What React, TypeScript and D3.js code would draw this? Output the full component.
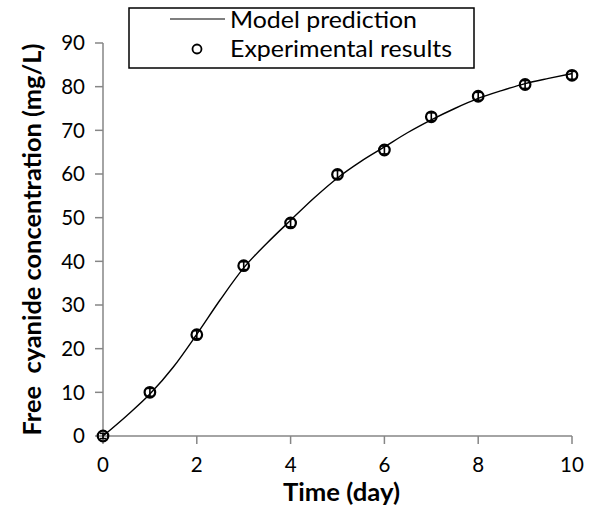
import React from "react";
import * as d3 from "d3";

// Measured free cyanide (mg/L) by day
const expDays = [0, 1, 2, 3, 4, 5, 6, 7, 8, 9, 10];
const expValues = [0, 10.0, 23.2, 39.0, 48.8, 59.9, 65.5, 73.1, 77.8, 80.5, 82.6];
const expErrors = [0.6, 0.9, 0.9, 0.9, 0.9, 0.9, 0.9, 0.9, 0.9, 0.9, 0.9];

// Model prediction curve
const modelDays = [0, 0.5, 1, 1.5, 2, 2.5, 3, 3.5, 4, 4.5, 5, 5.5, 6, 6.5, 7, 7.5, 8, 8.5, 9, 9.5, 10];
const modelValues = [0, 4.6, 9.6, 15.8, 23.3, 31.2, 38.5, 44.2, 49.4, 54.5, 59.1, 62.9, 66.2, 69.5, 72.4, 75.0, 77.3, 79.1, 80.7, 81.9, 83.0];

const xTicks = [0, 2, 4, 6, 8, 10];
const yTicks = [0, 10, 20, 30, 40, 50, 60, 70, 80, 90];

const W = 596;
const H = 510;
const FONT = "Lato, 'Open Sans', sans-serif";

export default function App() {
  const x = d3.scaleLinear().domain([0, 10]).range([103, 572]);
  const y = d3.scaleLinear().domain([0, 90]).range([436, 43]);
  const line = d3
    .line<number>()
    .x((_, i) => x(modelDays[i]))
    .y((d) => y(d))
    .curve(d3.curveMonotoneX);
  const axisColor = "#868686";

  return (
    <svg width={W} height={H} style={{ position: "absolute", left: 0, top: 0, background: "#fff" }}>
      {/* y axis */}
      <line x1={x(0)} x2={x(0)} y1={y(0)} y2={y(90)} stroke={axisColor} strokeWidth={1.5} />
      {yTicks.map((t) => (
        <g key={"y" + t}>
          <line x1={x(0) - 8} x2={x(0)} y1={y(t)} y2={y(t)} stroke={axisColor} strokeWidth={1.5} />
          <text x={x(0) - 18} y={y(t)} dy="0.36em" textAnchor="end" fontFamily={FONT} fontSize={20.5}>
            {t}
          </text>
        </g>
      ))}
      {/* x axis */}
      <line x1={x(0)} x2={x(10)} y1={y(0)} y2={y(0)} stroke={axisColor} strokeWidth={1.5} />
      {xTicks.map((t) => (
        <g key={"x" + t}>
          <line x1={x(t)} x2={x(t)} y1={y(0)} y2={y(0) + 8} stroke={axisColor} strokeWidth={1.5} />
          <text x={x(t)} y={y(0) + 36} textAnchor="middle" fontFamily={FONT} fontSize={20.5}>
            {t}
          </text>
        </g>
      ))}
      <text
        x={x(5) + 4}
        y={501}
        textAnchor="middle"
        fontFamily={FONT}
        fontWeight="bold"
        fontSize={24}
        textLength={117}
        lengthAdjust="spacingAndGlyphs"
      >
        Time (day)
      </text>
      <text
        transform={`translate(41, ${y(45)}) rotate(-90)`}
        textAnchor="middle"
        fontFamily={FONT}
        fontWeight="bold"
        fontSize={25}
        textLength={392}
        lengthAdjust="spacingAndGlyphs"
        style={{ whiteSpace: "pre" }}
      >
        {"Free  cyanide concentration (mg/L)"}
      </text>

      {/* model curve */}
      <path d={line(modelValues) || ""} fill="none" stroke="#000" strokeWidth={1.4} />

      {/* experimental points with error bars */}
      {expDays.map((d, i) => {
        const cx = x(d);
        const cy = y(expValues[i]);
        const e0 = y(expValues[i] - expErrors[i]);
        const e1 = y(expValues[i] + expErrors[i]);
        return (
          <g key={"p" + d}>
            <line x1={cx} x2={cx} y1={e0} y2={e1} stroke="#000" strokeWidth={1.6} />
            <line x1={cx - 3} x2={cx + 3} y1={e0} y2={e0} stroke="#000" strokeWidth={1.6} />
            <line x1={cx - 3} x2={cx + 3} y1={e1} y2={e1} stroke="#000" strokeWidth={1.6} />
            <circle cx={cx} cy={cy} r={5.3} fill="none" stroke="#000" strokeWidth={2.2} />
          </g>
        );
      })}

      {/* legend */}
      <rect x={129} y={8} width={345} height={60} fill="#fff" stroke="#000" strokeWidth={1.5} />
      <line x1={170} x2={225} y1={19} y2={19} stroke="#000" strokeWidth={1.2} />
      <text x={230} y={27.5} fontFamily={FONT} fontSize={23} textLength={187} lengthAdjust="spacingAndGlyphs">
        Model prediction
      </text>
      <circle cx={197} cy={49} r={4.5} fill="none" stroke="#000" strokeWidth={1.8} />
      <text x={230} y={57} fontFamily={FONT} fontSize={23} textLength={222} lengthAdjust="spacingAndGlyphs">
        Experimental results
      </text>
    </svg>
  );
}
